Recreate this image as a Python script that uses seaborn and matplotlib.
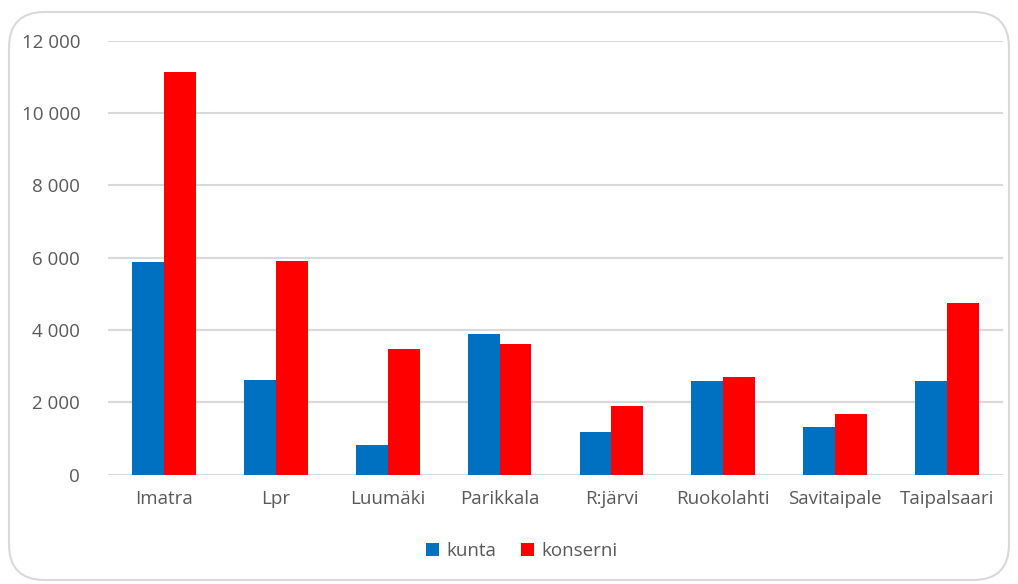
import matplotlib
matplotlib.use("Agg")
import matplotlib.pyplot as plt
from matplotlib.patches import FancyBboxPatch
from matplotlib.ticker import FuncFormatter
import seaborn as sns
import pandas as pd

categories = ["Imatra", "Lpr", "Luumäki", "Parikkala", "R:järvi", "Ruokolahti", "Savitaipale", "Taipalsaari"]
kunta = [5870, 2610, 810, 3880, 1180, 2580, 1315, 2580]
konserni = [11140, 5905, 3470, 3620, 1900, 2705, 1680, 4735]
series_names = ["kunta", "konserni"]
yticks = [0, 2000, 4000, 6000, 8000, 10000, 12000]

df = pd.DataFrame({
    "kunta_name": categories * 2,
    "value": kunta + konserni,
    "series": [series_names[0]] * len(categories) + [series_names[1]] * len(categories),
})

sns.set_theme(style="white")
plt.rcParams["font.family"] = ["Open Sans", "DejaVu Sans"]

fig = plt.figure(figsize=(10.18, 5.84), dpi=100)
ax = fig.add_axes([108 / 1018, 1 - 474.5 / 584, (1003 - 108) / 1018, (474.5 - 40.7) / 584])

sns.barplot(data=df, x="kunta_name", y="value", hue="series",
            palette={"kunta": "#0070C0", "konserni": "#FF0000"},
            width=0.57, ax=ax, saturation=1, legend=True, linewidth=0)

ax.set_ylim(0, 12000)
ax.set_xlim(-0.5, len(categories) - 0.5)
ax.set_yticks(yticks)
ax.yaxis.set_major_formatter(FuncFormatter(lambda v, p: f"{int(v):,}".replace(",", " ")))
ax.yaxis.grid(True, color="#D9D9D9", linewidth=1.5)
ax.set_axisbelow(True)
for s in ax.spines.values():
    s.set_visible(False)
ax.set_xlabel("")
ax.set_ylabel("")
ax.tick_params(axis="both", length=0, labelsize=13.5, labelcolor="#595959")
ax.tick_params(axis="y", pad=20)
ax.tick_params(axis="x", pad=11)

handles, labels = ax.get_legend_handles_labels()
ax.legend_.remove()
fig.legend(handles, labels, loc="center", bbox_to_anchor=(522 / 1018, 1 - 551 / 584),
           ncol=2, frameon=False, fontsize=13.5, handlelength=0.7, handleheight=0.7,
           handletextpad=0.4, columnspacing=1.3, labelcolor="#595959")

border = FancyBboxPatch((9 / 1018, 4 / 584), 1000 / 1018, 568 / 584,
                        boxstyle="round,pad=0,rounding_size=0.035",
                        transform=fig.transFigure, facecolor="none",
                        edgecolor="#D9D9D9", linewidth=1.5, mutation_aspect=1018 / 584)
fig.patches.append(border)

fig.savefig("out.png", dpi=100)
